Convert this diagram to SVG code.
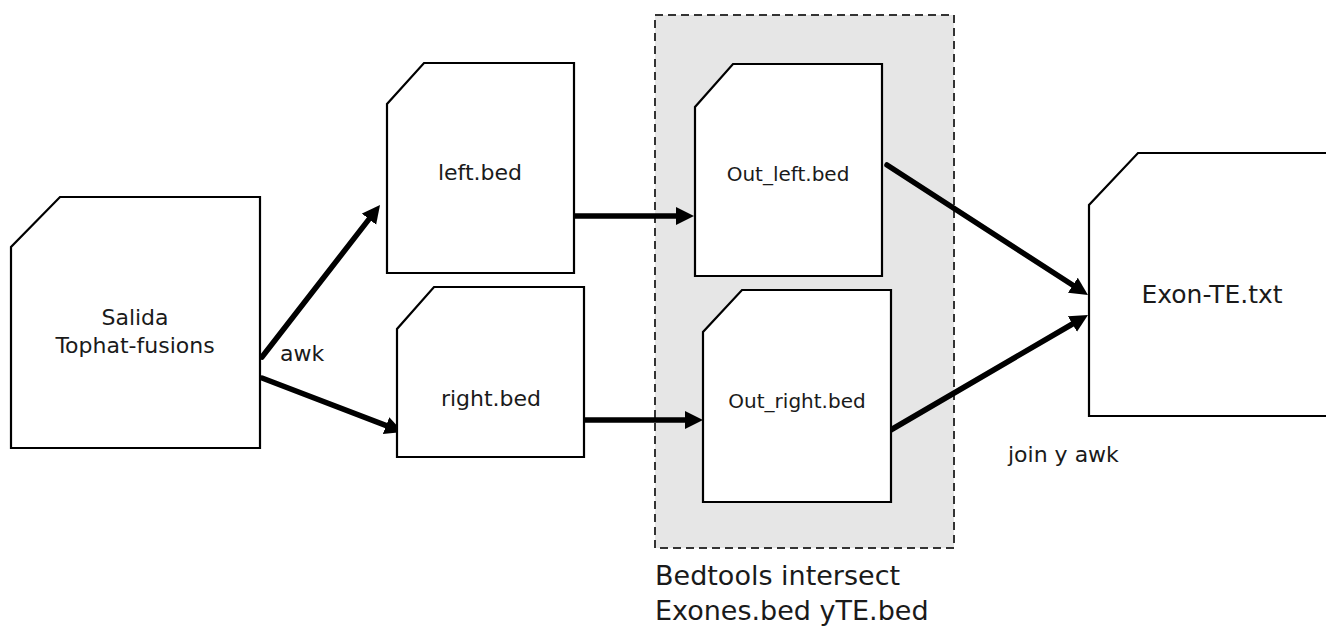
<svg xmlns="http://www.w3.org/2000/svg" width="1326" height="628" viewBox="0 0 1326 628">
  <style>
    .doc { fill: #ffffff; stroke: #000000; stroke-width: 2.2; stroke-linejoin: miter; }
    .lbl { font-family: "DejaVu Sans", "Liberation Sans", sans-serif; fill: #1a1a1a; }
    .mid { text-anchor: middle; }
    .flow { stroke: #000000; stroke-width: 5.5; stroke-linecap: round; fill: none; marker-end: url(#head); }
  </style>
  <defs>
    <marker id="head" markerUnits="userSpaceOnUse" markerWidth="20" markerHeight="20" refX="1" refY="9" orient="auto">
      <path d="M0,0 L18,9 L0,18 Z" fill="#000000"/>
    </marker>
  </defs>

  <!-- intersect stage frame -->
  <g id="bedtools-group">
    <rect x="655" y="15" width="299" height="533" fill="#e6e6e6" stroke="#333333" stroke-width="2" stroke-dasharray="8 5"/>
    <text class="lbl" x="655" y="585" font-size="27">Bedtools intersect</text>
    <text class="lbl" x="655" y="620" font-size="27">Exones.bed yTE.bed</text>
  </g>

  <!-- connectors -->
  <g id="connectors">
    <line class="flow" x1="262" y1="357" x2="369.6" y2="218.4"/>
    <line class="flow" x1="262" y1="378" x2="387" y2="425.9"/>
    <line class="flow" x1="568" y1="216" x2="677" y2="216"/>
    <line class="flow" x1="578" y1="420" x2="686" y2="420"/>
    <line class="flow" x1="887" y1="165" x2="1073.7" y2="285.8"/>
    <line class="flow" x1="889" y1="431" x2="1073.3" y2="323.5"/>
    <text class="lbl" x="280" y="361" font-size="22">awk</text>
    <text class="lbl" x="1008" y="462" font-size="22">join y awk</text>
  </g>

  <g id="salida">
    <path class="doc" d="M60,197 L260,197 L260,448 L11,448 L11,247 Z"/>
    <text class="lbl mid" x="135" y="325" font-size="22">Salida</text>
    <text class="lbl mid" x="135" y="353" font-size="22">Tophat-fusions</text>
  </g>

  <g id="left-bed">
    <path class="doc" d="M424,63 L574,63 L574,273 L387,273 L387,104 Z"/>
    <text class="lbl mid" x="480" y="180" font-size="22">left.bed</text>
  </g>

  <g id="right-bed">
    <path class="doc" d="M434,287 L584,287 L584,457 L397,457 L397,329 Z"/>
    <text class="lbl mid" x="491" y="406" font-size="22">right.bed</text>
  </g>

  <g id="out-left-bed">
    <path class="doc" d="M733,64 L882,64 L882,276 L695,276 L695,107 Z"/>
    <text class="lbl mid" x="788" y="181" font-size="20">Out_left.bed</text>
  </g>

  <g id="out-right-bed">
    <path class="doc" d="M742,290 L891,290 L891,502 L703,502 L703,332 Z"/>
    <text class="lbl mid" x="797" y="408" font-size="20">Out_right.bed</text>
  </g>

  <g id="exon-te">
    <path class="doc" d="M1138,153 L1332,153 L1332,416 L1089,416 L1089,205 Z"/>
    <text class="lbl mid" x="1212" y="303" font-size="25">Exon-TE.txt</text>
  </g>
</svg>
